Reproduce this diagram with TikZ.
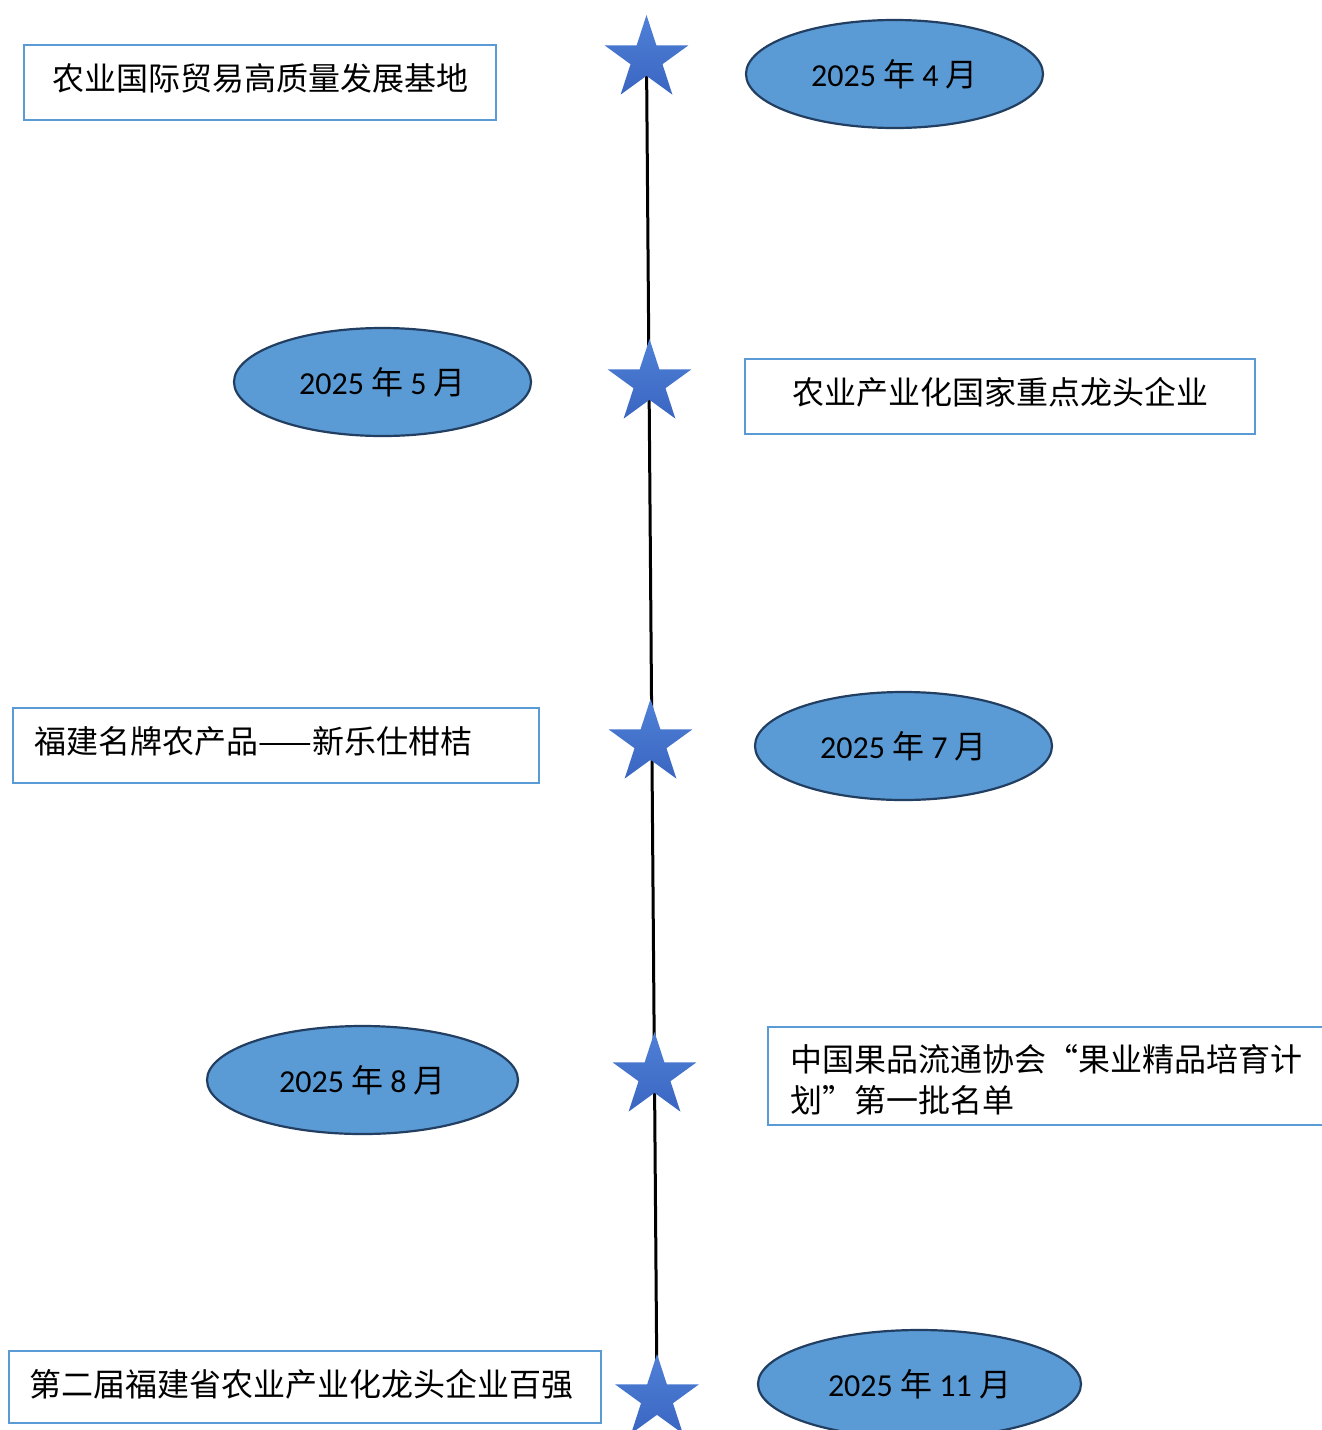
\documentclass[tikz,border=0pt]{standalone}
\usepackage{fontspec}
\setmainfont{Carlito}
\newfontfamily\cjk{Noto Sans CJK SC}
\newfontfamily\cjkfw{Noto Sans CJK SC}[CharacterWidth=Full]
\usetikzlibrary{shapes.geometric,positioning,backgrounds}
\definecolor{boxblue}{HTML}{5B9BD5}
\definecolor{ellfill}{HTML}{5B9BD5}
\definecolor{elledge}{HTML}{223F62}
\definecolor{startop}{HTML}{4F80D6}
\definecolor{starbot}{HTML}{3A66C2}
\tikzset{
  timeline/.style={draw=black, line width=3pt},
  starmark/.style={star, star points=5, star point ratio=2.618, minimum size=88pt,
    inner sep=0pt, outer sep=0pt, top color=startop, bottom color=starbot, draw=none},
  dateoval/.style={ellipse, fill=ellfill, draw=elledge, line width=2.2pt,
    minimum height=108pt, inner sep=0pt, font=\fontsize{32}{37}\selectfont},
  infobox/.style={draw=boxblue, line width=2.5pt, fill=white, inner sep=0pt},
  boxtext/.style={inner sep=0pt, align=left, font=\cjk\fontsize{32}{41}\selectfont}
}
\newcommand{\monthlabel}[1]{2025 {\cjk 年} #1 {\cjk 月}}

\begin{document}
\begin{tikzpicture}[x=1pt, y=-1pt]
  \useasboundingbox (0,0) rectangle (1322,1430);
  \clip (0,0) rectangle (1322,1430);
  % stars on the time axis
  \node[starmark] (s1) at (646.5,59) {};
  \node[starmark] (s2) at (649.5,383) {};
  \node[starmark] (s3) at (650.5,743) {};
  \node[starmark] (s4) at (654.5,1076) {};
  \node[starmark] (s5) at (657,1398) {};
  \begin{scope}[on background layer]
    \draw[timeline] (s1.center)--(s5.center);
  \end{scope}
  % dates
  \node[dateoval, minimum width=297pt] (d1) at (894.5,74) {\monthlabel{4}};
  \node[dateoval, minimum width=297pt] (d2) at (382.5,382) {\monthlabel{5}};
  \node[dateoval, minimum width=297pt] (d3) at (903.5,746) {\monthlabel{7}};
  \node[dateoval, minimum width=311pt] (d4) at (362.5,1080) {\monthlabel{8}};
  \node[dateoval, minimum width=323pt] (d5) at (919.5,1384) {\monthlabel{11}};
  % honours
  \node[infobox, minimum width=472pt, minimum height=75pt] (b1) at (260,82.5) {};
  \node[boxtext, right=30pt of b1.west, yshift=4pt] (t1) {农业国际贸易高质量发展基地};
  \node[infobox, minimum width=510pt, minimum height=75pt] (b2) at (1000,396.5) {};
  \node[boxtext, right=49pt of b2.west, yshift=4pt] (t2) {农业产业化国家重点龙头企业};
  \node[infobox, minimum width=526pt, minimum height=75pt] (b3) at (276,745.5) {};
  \node[boxtext, right=23pt of b3.west, yshift=4pt] (t3) {福建名牌农产品——新乐仕柑桔};
  \node[infobox, minimum width=580pt, minimum height=98pt] (b4) at (1058,1076) {};
  \node[boxtext, right=24pt of b4.west, yshift=-4pt] (t4)
    {中国果品流通协会{\cjkfw “}果业精品培育计\\划{\cjkfw ”}第一批名单};
  \node[infobox, minimum width=592pt, minimum height=72pt] (b5) at (305,1387) {};
  \node[boxtext, right=22pt of b5.west, yshift=3pt] (t5) {第二届福建省农业产业化龙头企业百强};
\end{tikzpicture}
\end{document}
